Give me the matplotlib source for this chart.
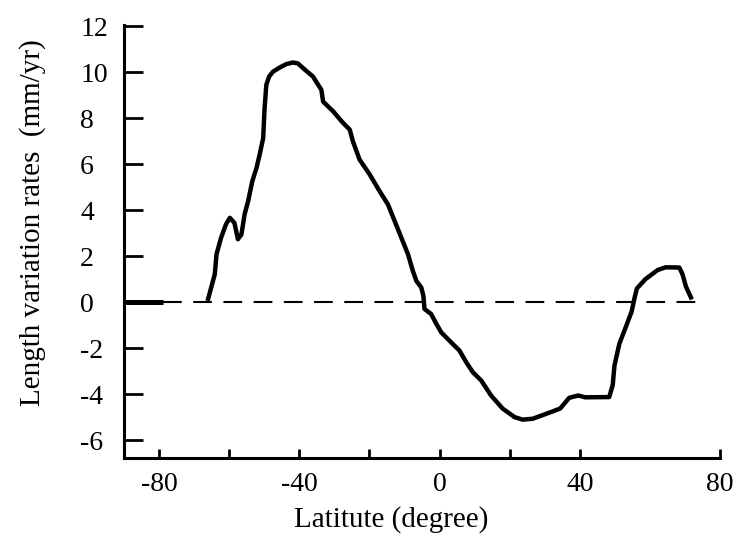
import matplotlib
matplotlib.use("Agg")
import matplotlib.pyplot as plt

# latitude (degree) and length variation rate (mm/yr)
latitude = [-66.0, -64.1, -63.6, -62.3, -60.9, -59.8, -58.5, -57.5, -56.5, -55.6,
            -54.6, -53.4, -52.2, -51.3, -50.3, -49.9, -49.4, -48.6, -47.5, -45.6,
            -43.7, -41.8, -40.4, -38.5, -36.1, -33.7, -33.2, -30.3, -27.9, -25.6,
            -24.7, -22.8, -19.9, -17.1, -14.7, -12.8, -10.9, -9.0, -7.6, -6.6,
            -5.2, -4.6, -4.3, -2.4, -0.9, 0.5, 3.3, 5.7, 7.6, 9.5,
            11.9, 14.7, 18.0, 21.4, 23.7, 26.6, 30.4, 34.4, 37.0, 39.6,
            41.5, 48.4, 49.4, 49.9, 51.3, 53.2, 54.8, 55.6, 56.3, 58.7,
            62.2, 64.5, 68.4, 69.3, 70.3, 71.7]
rate = [0.15, 1.22, 2.09, 2.81, 3.39, 3.67, 3.45, 2.74, 2.95, 3.82,
        4.39, 5.26, 5.84, 6.42, 7.13, 8.43, 9.45, 9.81, 10.02, 10.2,
        10.35, 10.42, 10.38, 10.12, 9.81, 9.23, 8.72, 8.29, 7.86, 7.5,
        6.99, 6.2, 5.55, 4.83, 4.25, 3.53, 2.81, 2.09, 1.36, 0.93,
        0.64, 0.28, -0.29, -0.51, -0.94, -1.31, -1.74, -2.1, -2.6, -3.04,
        -3.4, -4.05, -4.62, -4.99, -5.1, -5.06, -4.85, -4.62, -4.15, -4.05,
        -4.13, -4.12, -3.6, -2.75, -1.8, -1.05, -0.4, 0.17, 0.6, 1.0,
        1.4, 1.52, 1.51, 1.22, 0.68, 0.21]

x_ticks = [-80, -60, -40, -20, 0, 20, 40, 80]
x_labels = ["-80", "", "-40", "", "0", "", "40", "80"]
y_ticks = [-6, -4, -2, 0, 2, 4, 6, 8, 10, 12]

plt.rcParams["font.family"] = ["Liberation Serif", "DejaVu Serif"]
plt.rcParams["axes.unicode_minus"] = False

fig = plt.figure(figsize=(7.38, 5.43), dpi=100)
ax = fig.add_axes([0.168, 0.156, 0.8076, 0.798])

# zero reference: short solid stub then dashed line
ax.plot([-90, -79], [0, 0], color="black", lw=3.6, solid_capstyle="butt")
ax.plot([-79, 74], [0, 0], color="black", lw=1.5, linestyle=(0, (9, 5.5)))

ax.plot(latitude, rate, color="black", lw=3.2, solid_joinstyle="round")

ax.set_xlim(-90, 80)
ax.set_ylim(-6.78, 12.05)

ax.spines["top"].set_visible(False)
ax.spines["right"].set_visible(False)
ax.spines["left"].set_linewidth(2.2)
ax.spines["bottom"].set_linewidth(2.2)

ax.set_xticks(x_ticks)
ax.set_xticklabels(x_labels)
ax.set_yticks(y_ticks)
ax.set_yticklabels([str(v) for v in y_ticks], ha="left")

ax.tick_params(axis="x", direction="in", length=6.5, width=2.0, pad=10, labelsize=20)
ax.tick_params(axis="y", direction="in", length=13.5, width=2.0, pad=31.5, labelsize=20)

ax.set_xlabel("Latitute (degree)", fontsize=21, va="center")
ax.xaxis.set_label_coords(0.448, -0.142)
ax.set_ylabel("Length variation rates  (mm/yr)", fontsize=21, va="center")
ax.yaxis.set_label_coords(-0.153, 0.543)

fig.savefig("out.png", dpi=100)
